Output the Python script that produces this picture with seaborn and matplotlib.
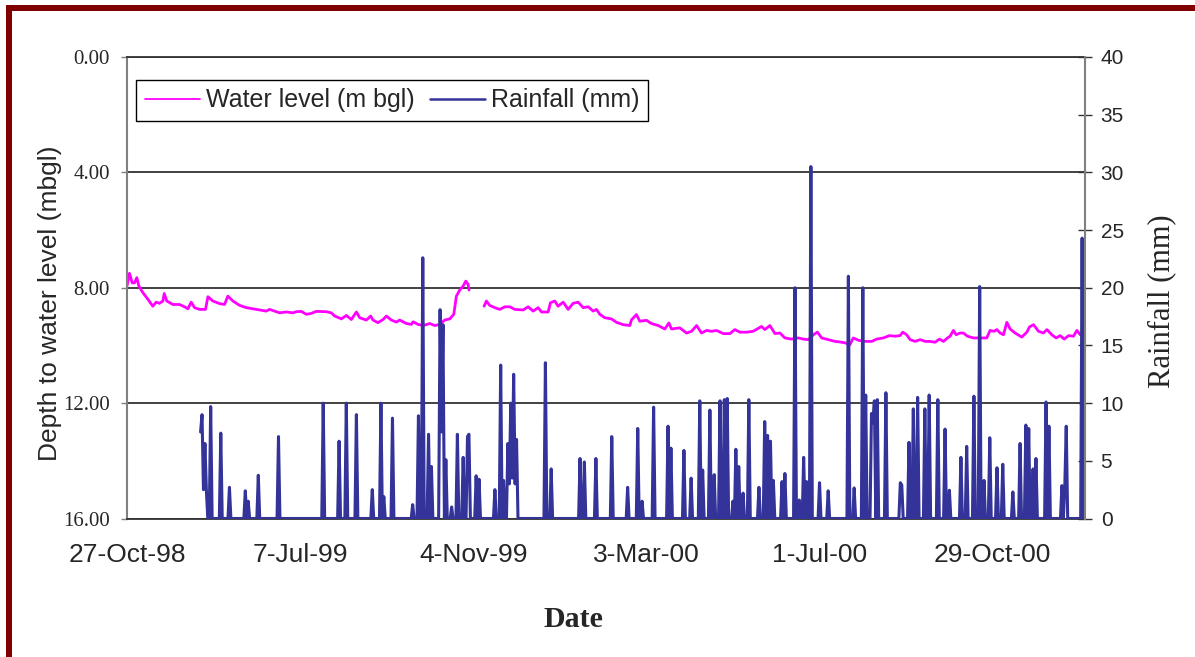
import numpy as np
import pandas as pd
import matplotlib
matplotlib.use("Agg")
import matplotlib.pyplot as plt
from matplotlib.lines import Line2D
from matplotlib.patches import Rectangle
import seaborn as sns

# x axis is a category axis (one step per record), labelled every 120 records
date_labels = ["27-Oct-98", "7-Jul-99", "4-Nov-99", "3-Mar-00", "1-Jul-00", "29-Oct-00"]
label_days = [0, 120, 240, 360, 480, 600]
n_days = 664

# water level (m bgl); no record between ~237 and ~247
wl_day = [0, 1.7, 3.6, 5.2, 6.8, 8.2, 11, 14.5, 17.9, 20.2, 22.5, 24.9, 25.8, 27.6, 31.8,
          36.4, 39.9, 42.2, 44.5, 46.8, 50.3, 54.4, 56.1, 59.5, 64.2, 67.6, 69.9, 73.4, 78,
          82.7, 87.3, 91.9, 96.5, 98.8, 102.3, 105.8, 110.4, 115, 117.3, 120.8, 124.3, 127.7,
          131.2, 138.1, 141.6, 143.9, 148.6, 152, 155.5, 159, 161.3, 165.9, 168.9, 170.5,
          174, 177.5, 179.8, 183.2, 186.7, 189, 193.6, 197.1, 198.3, 201.7, 205.2, 209.8,
          213.3, 216.8, 220.2, 223.7, 226.5, 228.3, 230.6, 233, 234.8, 236.4, 237.1,
          247.5, 249.1, 251.4, 254.9, 258.4, 261.9, 265.3, 268.8, 274.6, 278, 281.5, 285,
          287.3, 291.9, 293.5, 296.5, 298.8, 302.3, 305.8, 309.2, 312.7, 316.2, 319.7, 323.1,
          325.4, 327.7, 331.2, 335.8, 339.3, 343.9, 348.5, 349.7, 353.1, 355.4, 360.1, 363.5,
          368.2, 372.8, 375.6, 377.4, 383.2, 387.8, 391.3, 394.8, 398.2, 401.7, 405.2, 408.6,
          413.3, 417.9, 421.3, 424.8, 429.4, 434, 439.8, 442.1, 445.6, 449.1, 452.6, 456,
          460.6, 465.3, 468.7, 472.2, 475.7, 478.5, 481.5, 486.1, 490.7, 494.2, 497.7, 501.1,
          503.4, 506.9, 511.5, 516.2, 519.6, 524.2, 528.4, 532.4, 535.8, 537.7, 540.4, 542.8,
          546.2, 549.7, 553.2, 556.6, 560.1, 563.1, 565.9, 568.7, 570.5, 572.8, 574.7, 577.4,
          579.7, 582.5, 586.7, 591.3, 595.9, 598.2, 601, 602.9, 605.2, 607.5, 609.8, 612.1,
          615.6, 620.2, 623.7, 625.5, 628.3, 631.8, 635.2, 637.6, 641, 644, 646.8, 649.6,
          652.6, 656, 658.4, 660.7, 663]
wl_depth = [7.94, 7.50, 7.83, 7.83, 7.65, 7.94, 8.17, 8.40, 8.64, 8.50, 8.54, 8.46, 8.20, 8.46, 8.58,
            8.58, 8.66, 8.73, 8.50, 8.69, 8.75, 8.75, 8.31, 8.46, 8.55, 8.58, 8.29, 8.46, 8.61,
            8.69, 8.73, 8.77, 8.81, 8.75, 8.81, 8.87, 8.84, 8.87, 8.83, 8.82, 8.92, 8.89,
            8.82, 8.83, 8.87, 8.98, 9.08, 8.96, 9.10, 8.84, 9.04, 9.12, 8.98, 9.12,
            9.21, 9.10, 8.98, 9.12, 9.19, 9.12, 9.24, 9.27, 9.18, 9.27, 9.31, 9.24,
            9.31, 9.27, 9.12, 9.08, 8.92, 8.29, 8.08, 7.94, 7.77, 7.88, 8.08,
            8.64, 8.46, 8.61, 8.69, 8.75, 8.66, 8.66, 8.75, 8.77, 8.66, 8.81, 8.69,
            8.84, 8.84, 8.52, 8.46, 8.64, 8.50, 8.75, 8.54, 8.50, 8.69, 8.66, 8.81,
            8.75, 8.92, 9.04, 9.08, 9.20, 9.28, 9.31, 9.11, 8.93, 9.16, 9.13, 9.24,
            9.31, 9.43, 9.22, 9.43, 9.39, 9.57, 9.51, 9.31, 9.57, 9.48, 9.51, 9.48,
            9.59, 9.59, 9.45, 9.54, 9.54, 9.51, 9.34, 9.45, 9.31, 9.59, 9.57, 9.74,
            9.78, 9.74, 9.78, 9.80, 9.63, 9.54, 9.74, 9.80, 9.86, 9.88, 9.91, 9.97,
            9.74, 9.82, 9.86, 9.86, 9.78, 9.74, 9.66, 9.68, 9.66, 9.54, 9.63, 9.80,
            9.86, 9.80, 9.86, 9.86, 9.89, 9.78, 9.86, 9.74, 9.68, 9.48, 9.63, 9.57,
            9.57, 9.68, 9.74, 9.74, 9.74, 9.48, 9.51, 9.45, 9.57, 9.63, 9.20, 9.43,
            9.57, 9.71, 9.54, 9.36, 9.28, 9.51, 9.57, 9.45, 9.63, 9.74, 9.66, 9.78,
            9.66, 9.68, 9.48, 9.63, 9.63]
wl_gap_day = 240

# daily rainfall (mm): record starts at day 51, days not listed had no rain
rain_start = 51
rain_day = [51, 52, 53, 54, 55, 58, 65, 71, 82, 84, 91, 105, 136, 147, 152, 159,
            170, 176, 178, 184, 198, 202, 205, 209, 211, 217, 218, 219, 221, 225, 229, 233,
            236, 237, 242, 244, 255, 259, 261, 264, 265, 266, 267, 268, 269, 270, 290, 294,
            314, 317, 325,
            336, 347, 354, 357, 365, 375, 377, 386, 391, 397, 399, 404, 407, 411, 414, 416,
            420, 422, 424, 427, 431, 438, 442, 444, 446, 448, 454, 456, 463, 466, 469, 471,
            474, 480, 486,
            500, 504, 510, 512, 516, 517, 518, 520, 526, 536, 537, 542, 545, 548, 553, 556,
            562, 567, 570, 578, 582, 587, 591, 594, 598, 603, 607, 614, 619, 623, 625, 628,
            630, 637, 639, 648, 650, 651, 662]
rain_mm = [7.5, 9.0, 2.5, 6.5, 2.5, 9.7, 7.4, 2.7, 2.4, 1.5, 3.75, 7.1, 10.0, 6.7, 10.0, 9.0,
           2.5, 10.0, 1.9, 8.7, 1.2, 8.9, 22.6, 7.3, 4.5, 18.1, 7.5, 16.8, 5.1, 1.0, 7.3, 5.3,
           7.1, 7.3, 3.7, 3.4, 2.5, 13.3, 3.3, 6.5, 3.0, 10.0, 3.5, 12.5, 3.0, 6.85, 13.5, 4.3,
           5.2, 4.9, 5.2,
           7.1, 2.7, 7.8, 1.5, 9.65, 8.0, 6.1, 5.9, 3.5, 10.2, 4.2, 9.4, 3.8, 10.2, 10.3, 10.4,
           1.5, 6.0, 4.5, 2.2, 10.3, 2.7, 8.4, 7.2, 6.7, 3.3, 3.2, 3.9, 20.0, 1.6, 5.3, 3.2,
           30.5, 3.1, 2.4,
           21.0, 2.65, 20.0, 10.7, 9.1, 8.3, 10.2, 10.3, 10.9, 3.1, 2.9, 6.6, 9.5, 10.5, 9.5, 10.7,
           10.3, 7.75, 2.45, 5.3, 6.25, 10.6, 20.1, 3.3, 7.0, 4.4, 4.7, 2.3, 6.5, 8.1, 7.8, 4.3,
           5.2, 10.1, 8.0, 2.85, 2.8, 8.0, 24.3]

depth_ticks = [0, 4, 8, 12, 16]
rain_ticks = list(range(0, 45, 5))

water = pd.DataFrame({"day": wl_day, "depth": wl_depth})
water["segment"] = (water["day"] > wl_gap_day).astype(int)

days = np.arange(rain_start, n_days)
mm = np.zeros(len(days))
mm[np.array(rain_day) - rain_start] = rain_mm
rain = pd.DataFrame({"day": days, "mm": mm})

sns.set_style("white")
plt.rcParams["font.family"] = ["Liberation Sans", "DejaVu Sans"]

W, H = 1195, 657
fig = plt.figure(figsize=(W / 100, H / 100), dpi=100)
ax = fig.add_axes([127 / W, 1 - 518.5 / H, (1085 - 127) / W, (518.5 - 57) / H])

magenta = "#FF00FF"
navy = "#333399"
grid_col = "#333333"
axis_col = "#808080"

sns.lineplot(data=water, x="day", y="depth", units="segment", estimator=None,
             color=magenta, lw=2.0, ax=ax, legend=False)
ax2 = ax.twinx()
sns.lineplot(data=rain, x="day", y="mm", color=navy, lw=2.2, ax=ax2, legend=False)

ax.set_xlim(0, n_days)
ax.set_ylim(16, 0)
ax2.set_ylim(0, 40)

ax.set_yticks(depth_ticks, labels=[f"{v:.2f}" for v in depth_ticks],
              fontfamily="Liberation Serif", fontsize=15)
ax.set_xticks(label_days, labels=date_labels, fontfamily="Liberation Sans", fontsize=19)
ax2.set_yticks(rain_ticks, labels=[str(v) for v in rain_ticks],
               fontfamily="Liberation Sans", fontsize=15)

ax.grid(axis="y", color=grid_col, lw=1.3)
ax.grid(axis="x", visible=False)
ax2.grid(False)

ax.tick_params(axis="y", direction="out", length=4, width=1, color=axis_col, pad=8.5, left=True)
ax.tick_params(axis="x", length=0, pad=18)
ax2.tick_params(axis="y", direction="inout", length=9.5, width=1, color=grid_col, pad=6.5, right=True)

for s in ["top", "bottom"]:
    ax.spines[s].set_color(grid_col)
    ax.spines[s].set_linewidth(1.3)
ax.spines["left"].set_color(axis_col)
ax.spines["left"].set_linewidth(1.5)
ax.spines["right"].set_visible(False)
for s in ["left", "top", "bottom"]:
    ax2.spines[s].set_visible(False)
ax2.spines["right"].set_color(axis_col)
ax2.spines["right"].set_linewidth(1.5)

ax.set_ylabel("Depth to water level (mbgl)", fontfamily="Liberation Sans", fontsize=19)
ax.yaxis.set_label_coords(-0.068, 0.467)
ax2.set_ylabel("Rainfall (mm)", fontfamily="Liberation Serif", fontsize=22)
ax2.yaxis.set_label_coords(1.065, 0.471)
ax.set_xlabel("Date", fontfamily="Liberation Serif", fontweight="bold", fontsize=21.5)
ax.xaxis.set_label_coords(0.4656, -0.19)

handles = [Line2D([], [], color=magenta, lw=1.3), Line2D([], [], color=navy, lw=1.8)]
leg = ax2.legend(handles, ["Water level (m bgl)", "Rainfall (mm)"], loc="upper left",
                 bbox_to_anchor=(0.0094, 0.951), borderaxespad=0, ncol=2,
                 frameon=True, fancybox=False, framealpha=1, edgecolor="black",
                 prop={"family": "Liberation Sans", "size": 18},
                 handlelength=2.2, handletextpad=0.25, columnspacing=0.6, borderpad=0.35)
leg.get_frame().set_linewidth(1.0)

# dark red frame along the top and left edge of the picture
border = "#800000"
fig.add_artist(Rectangle((6 / W, 0), 6 / W, (H - 5) / H, transform=fig.transFigure,
                         color=border, lw=0))
fig.add_artist(Rectangle((6 / W, 1 - 11 / H), (W - 6) / W, 6 / H, transform=fig.transFigure,
                         color=border, lw=0))

fig.savefig("out.png", dpi=100, facecolor="white")
